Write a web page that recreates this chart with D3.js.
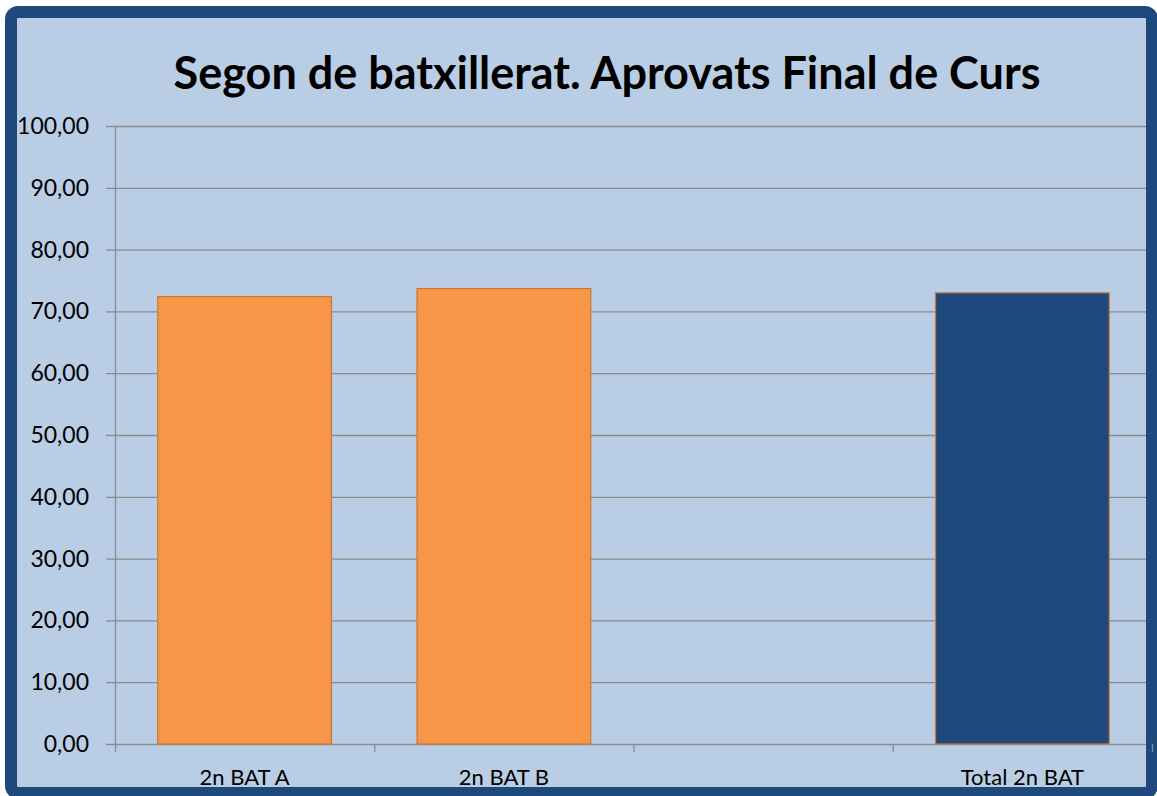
<!DOCTYPE html>
<html>
<head>
<meta charset="utf-8">
<script src="https://cdn.jsdelivr.net/npm/d3@7"></script>
<style>
  body { margin: 0; background: #fff; }
  svg { display: block; }
</style>
</head>
<body>
<svg id="chart" width="1157" height="796"></svg>
<script>
// data
const categories = ["2n BAT A", "2n BAT B", "", "Total 2n BAT"];
const values = [72.4, 73.7, null, 73.0];
const barColors = ["#f79646", "#f79646", null, "#1f497d"];
const yTicks = [0, 10, 20, 30, 40, 50, 60, 70, 80, 90, 100];
const title = "Segon de batxillerat. Aprovats Final de Curs";

const svg = d3.select("#chart");
const fontFam = "Lato, 'Open Sans', sans-serif";

// frame
svg.append("rect")
    .attr("x", 11).attr("y", 12)
    .attr("width", 1141).attr("height", 781)
    .attr("rx", 7)
    .attr("fill", "#b9cde5")
    .attr("stroke", "#1f497d")
    .attr("stroke-width", 12);

const margin = {left: 115, right: 1152, top: 126, bottom: 744};

const x = d3.scaleBand()
    .domain(d3.range(categories.length))
    .range([margin.left, margin.right])
    .paddingInner(0.33)
    .paddingOuter(0.165);

const y = d3.scaleLinear().domain([0, 100]).range([margin.bottom, margin.top]);

const fmt = v => d3.format(".2f")(v).replace(".", ",");

// gridlines
svg.append("g")
  .selectAll("line")
  .data(yTicks)
  .join("line")
    .attr("x1", margin.left - 9).attr("x2", 1146)
    .attr("y1", d => y(d) + 0.5).attr("y2", d => y(d) + 0.5)
    .attr("stroke", "#8c8c8c").attr("stroke-width", 1.3);

// y axis line
svg.append("line")
    .attr("x1", margin.left + 0.5).attr("x2", margin.left + 0.5)
    .attr("y1", margin.top).attr("y2", margin.bottom)
    .attr("stroke", "#8c8c8c").attr("stroke-width", 1.3);

// y tick labels
svg.append("g")
  .selectAll("text")
  .data(yTicks)
  .join("text")
    .attr("x", 89)
    .attr("y", d => y(d) + 8)
    .attr("text-anchor", "end")
    .attr("font-family", fontFam)
    .attr("font-size", 23)
    .attr("fill", "#000")
    .text(fmt);

// x category boundary ticks
svg.append("g")
  .selectAll("line")
  .data(d3.range(categories.length + 1))
  .join("line")
    .attr("x1", i => margin.left + i * (margin.right - margin.left) / categories.length + 0.5)
    .attr("x2", i => margin.left + i * (margin.right - margin.left) / categories.length + 0.5)
    .attr("y1", margin.bottom).attr("y2", margin.bottom + 8)
    .attr("stroke", "#8c8c8c").attr("stroke-width", 1.3);

// bars
svg.append("g")
  .selectAll("rect")
  .data(values.map((v, i) => ({v, i})).filter(d => d.v != null))
  .join("rect")
    .attr("x", d => x(d.i))
    .attr("y", d => y(d.v))
    .attr("width", x.bandwidth())
    .attr("height", d => y(0) - y(d.v))
    .attr("fill", d => barColors[d.i])
    .attr("stroke", "#c8773a")
    .attr("stroke-width", 1.2);

// x labels
svg.append("g")
  .selectAll("text")
  .data(categories)
  .join("text")
    .attr("x", (d, i) => x(i) + x.bandwidth() / 2)
    .attr("y", 785)
    .attr("text-anchor", "middle")
    .attr("font-family", fontFam)
    .attr("font-size", 22)
    .attr("fill", "#000")
    .text(d => d);

// title
svg.append("text")
    .attr("x", 607)
    .attr("y", 89)
    .attr("text-anchor", "middle")
    .attr("font-family", fontFam)
    .attr("font-weight", "bold")
    .attr("font-size", 45)
    .attr("fill", "#000")
    .text(title);
</script>
</body>
</html>
